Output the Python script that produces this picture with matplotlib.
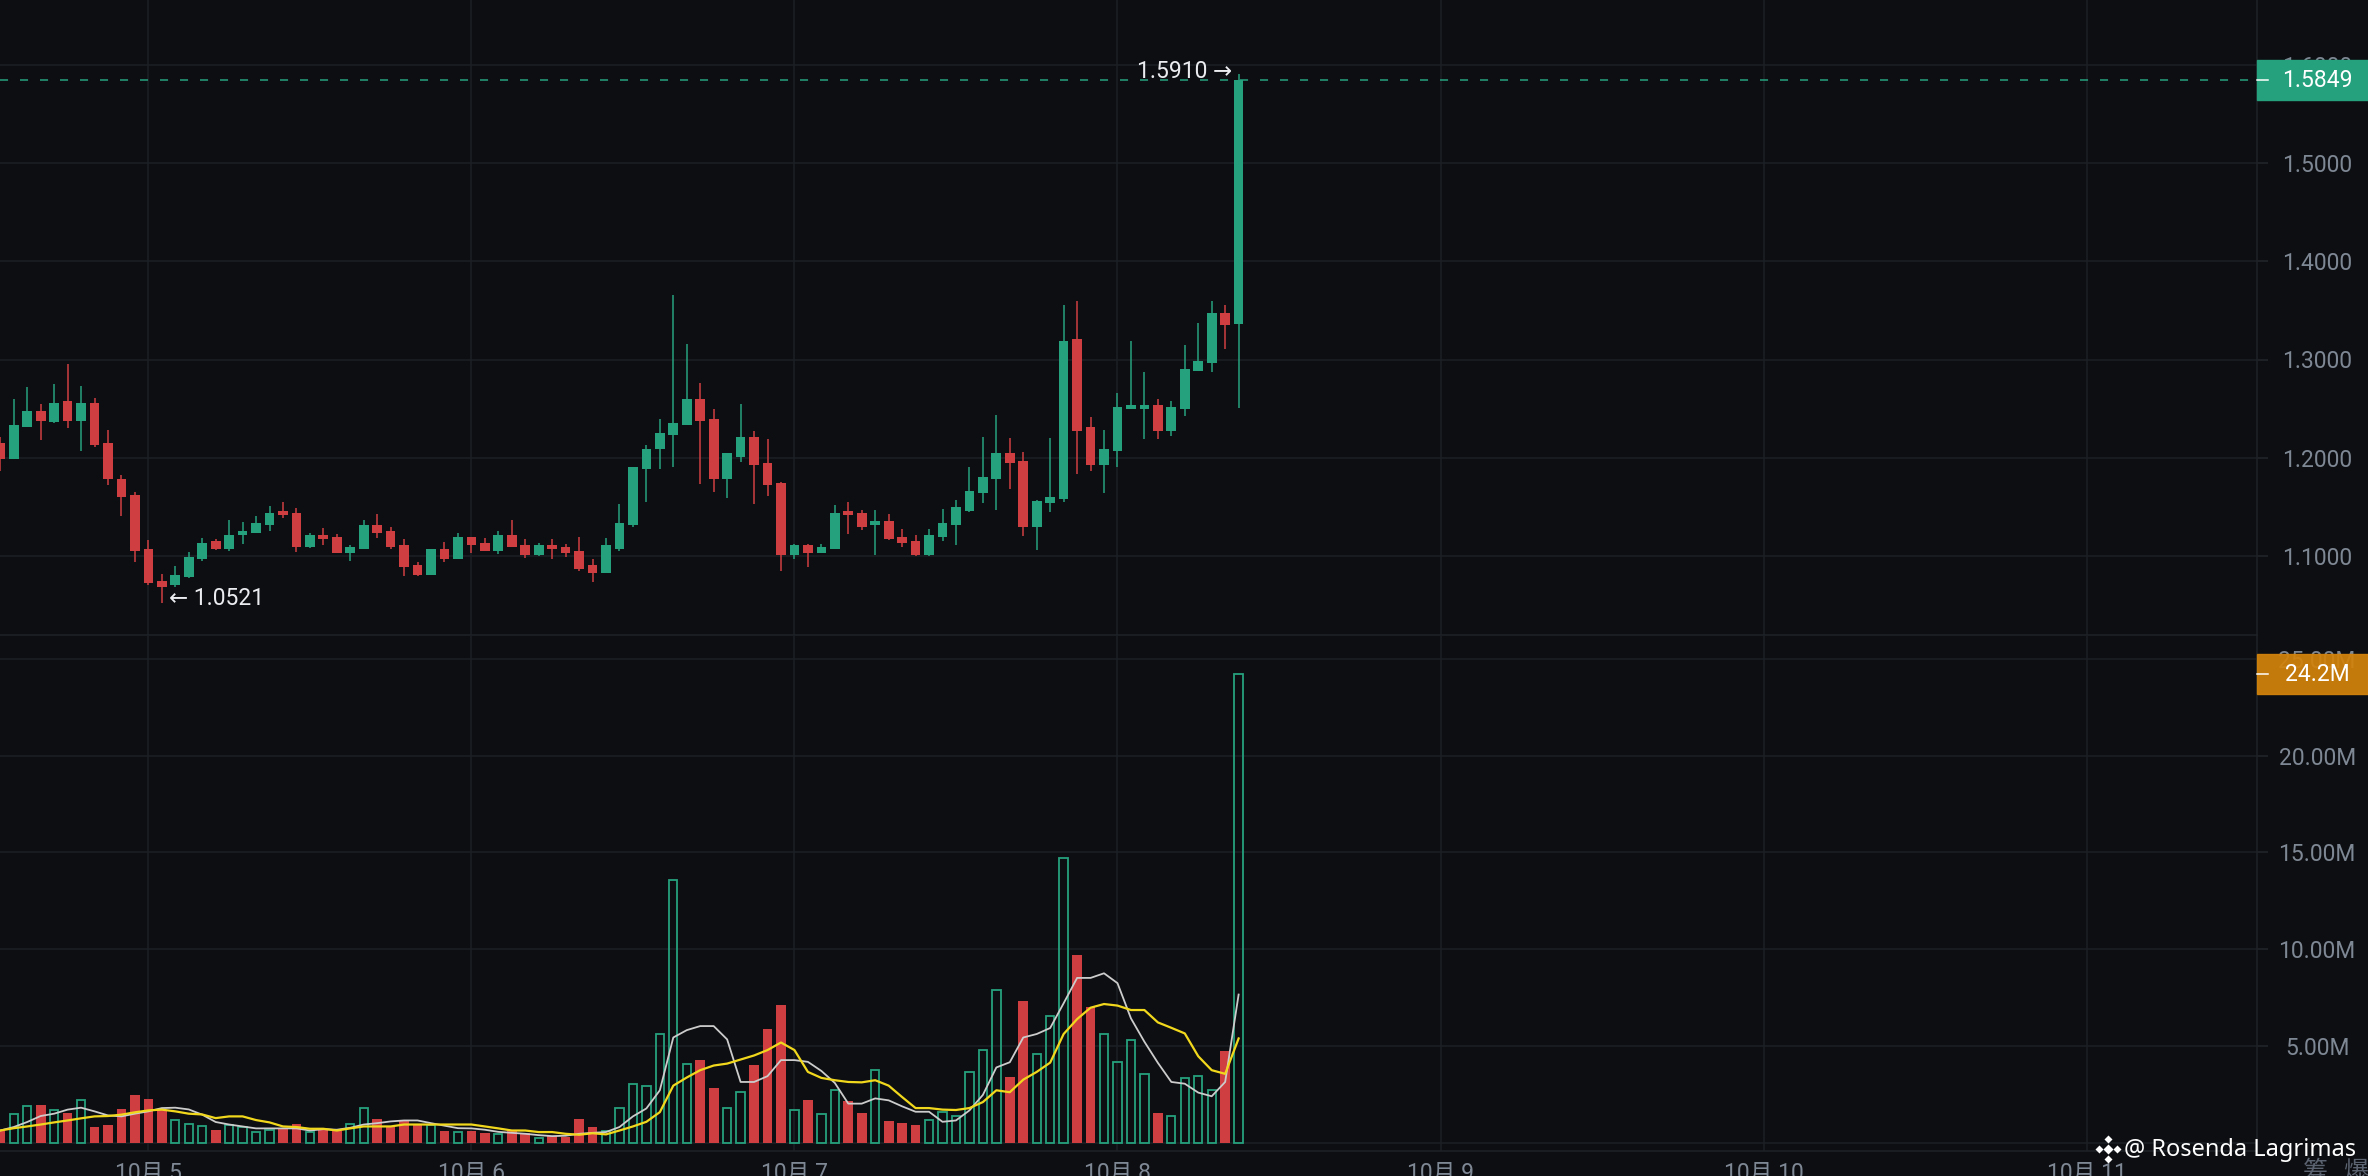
import matplotlib
matplotlib.use('Agg')
import matplotlib.pyplot as plt
from matplotlib.transforms import blended_transform_factory
from matplotlib.patches import Rectangle
from matplotlib.lines import Line2D

# hourly candles, first one is 10-04 13:00
first_hour = 13
days = [5, 6, 7, 8, 9, 10, 11]

opens = [1.2149, 1.1990, 1.2316, 1.2476, 1.2364, 1.2578, 1.2374, 1.2558, 1.2149, 1.1785,
         1.1619, 1.1068, 1.0741, 1.0701, 1.0779, 1.0966, 1.1150, 1.1068, 1.1210, 1.1231,
         1.1313, 1.1456, 1.1435, 1.1088, 1.1210, 1.1190, 1.1027, 1.1068, 1.1313, 1.1251,
         1.1109, 1.0904, 1.0802, 1.1068, 1.0966, 1.1190, 1.1129, 1.1047, 1.1210, 1.1109,
         1.1007, 1.1109, 1.1088, 1.1047, 1.0904, 1.0826, 1.1068, 1.1313, 1.1884, 1.2088,
         1.2231, 1.2333, 1.2599, 1.2395, 1.1782, 1.2007, 1.2211, 1.1946, 1.1741, 1.1007,
         1.1109, 1.1027, 1.1068, 1.1456, 1.1435, 1.1313, 1.1354, 1.1190, 1.1150, 1.1007,
         1.1190, 1.1313, 1.1456, 1.1639, 1.1782, 1.2048, 1.1966, 1.1293, 1.1537, 1.1578,
         1.3211, 1.2313, 1.1925, 1.2068, 1.2497, 1.2497, 1.2537, 1.2272, 1.2497, 1.2884,
         1.2966, 1.3476, 1.3363]
highs = [1.2210, 1.2602, 1.2720, 1.2547, 1.2751, 1.2956, 1.2728, 1.2609, 1.2279, 1.1826,
         1.1650, 1.1160, 1.0809, 1.0894, 1.1034, 1.1180, 1.1167, 1.1364, 1.1344, 1.1404,
         1.1507, 1.1547, 1.1486, 1.1234, 1.1279, 1.1220, 1.1105, 1.1364, 1.1425, 1.1292,
         1.1170, 1.0935, 1.1068, 1.1136, 1.1231, 1.1190, 1.1180, 1.1251, 1.1364, 1.1170,
         1.1129, 1.1170, 1.1119, 1.1190, 1.0966, 1.1180, 1.1527, 1.1905, 1.2129, 1.2394,
         1.3660, 1.3158, 1.2762, 1.2497, 1.2048, 1.2544, 1.2272, 1.2190, 1.1748, 1.1116,
         1.1116, 1.1116, 1.1517, 1.1544, 1.1463, 1.1463, 1.1422, 1.1272, 1.1211, 1.1272,
         1.1476, 1.1565, 1.1905, 1.2211, 1.2435, 1.2197, 1.2054, 1.1571, 1.2197, 1.3551,
         1.3599, 1.2415, 1.2279, 1.2660, 1.3190, 1.2871, 1.2599, 1.2578, 1.3143, 1.3374,
         1.3592, 1.3551, 1.5910]
lows = [1.1860, 1.1990, 1.2316, 1.2183, 1.2357, 1.2306, 1.2068, 1.2112, 1.1724, 1.1408,
        1.0939, 1.0704, 1.0521, 1.0680, 1.0772, 1.0949, 1.1058, 1.1044, 1.1119, 1.1231,
        1.1251, 1.1388, 1.1040, 1.1081, 1.1109, 1.1027, 1.0942, 1.1068, 1.1183, 1.1068,
        1.0796, 1.0796, 1.0802, 1.0939, 1.0966, 1.1027, 1.1047, 1.1017, 1.1088, 1.0976,
        1.1000, 1.0969, 1.0986, 1.0843, 1.0734, 1.0826, 1.1047, 1.1292, 1.1548, 1.1884,
        1.1900, 1.2333, 1.1735, 1.1653, 1.1592, 1.1959, 1.1524, 1.1605, 1.0844, 1.0966,
        1.0884, 1.1027, 1.1068, 1.1218, 1.1259, 1.1007, 1.1156, 1.1088, 1.0993, 1.0993,
        1.1150, 1.1109, 1.1442, 1.1537, 1.1469, 1.1680, 1.1204, 1.1061, 1.1449, 1.1544,
        1.1837, 1.1864, 1.1639, 1.1905, 1.2497, 1.2190, 1.2190, 1.2224, 1.2429, 1.2884,
        1.2871, 1.3109, 1.2510]
closes = [1.1990, 1.2333, 1.2476, 1.2374, 1.2558, 1.2374, 1.2558, 1.2126, 1.1785, 1.1602,
          1.1047, 1.0724, 1.0684, 1.0799, 1.0986, 1.1129, 1.1068, 1.1210, 1.1251, 1.1333,
          1.1435, 1.1415, 1.1088, 1.1210, 1.1170, 1.1027, 1.1088, 1.1313, 1.1231, 1.1088,
          1.0884, 1.0802, 1.1068, 1.0966, 1.1190, 1.1109, 1.1047, 1.1210, 1.1088, 1.1007,
          1.1109, 1.1068, 1.1027, 1.0864, 1.0826, 1.1109, 1.1333, 1.1905, 1.2088, 1.2251,
          1.2353, 1.2598, 1.2374, 1.1782, 1.2048, 1.2211, 1.1925, 1.1721, 1.1007, 1.1109,
          1.1027, 1.1088, 1.1435, 1.1415, 1.1293, 1.1354, 1.1170, 1.1129, 1.1007, 1.1211,
          1.1333, 1.1497, 1.1660, 1.1803, 1.2048, 1.1946, 1.1293, 1.1558, 1.1599, 1.3190,
          1.2272, 1.1925, 1.2088, 1.2517, 1.2537, 1.2537, 1.2272, 1.2517, 1.2905, 1.2986,
          1.3476, 1.3354, 1.5849]

# volume in millions
vols = [0.62, 1.49, 1.89, 1.92, 1.70, 1.51, 2.21, 0.78, 0.88, 1.71,
        2.44, 2.23, 1.66, 1.18, 0.97, 0.85, 0.67, 0.93, 0.80, 0.55,
        0.66, 0.69, 0.97, 0.55, 0.69, 0.59, 0.97, 1.80, 1.19, 0.83,
        1.09, 0.92, 0.92, 0.59, 0.55, 0.59, 0.48, 0.42, 0.62, 0.48,
        0.24, 0.36, 0.31, 1.19, 0.78, 0.57, 1.78, 3.03, 2.92, 5.62,
        13.57, 4.07, 4.29, 2.84, 1.78, 2.61, 4.00, 5.87, 7.09, 1.68,
        2.21, 1.47, 2.72, 2.13, 1.51, 3.75, 1.09, 0.99, 0.88, 1.16,
        1.57, 1.37, 3.65, 4.79, 7.91, 3.37, 7.32, 4.58, 6.56, 14.70,
        9.71, 7.01, 5.62, 4.17, 5.31, 3.55, 1.51, 1.37, 3.34, 3.44,
        2.72, 4.72, 24.20]
ma5 = [0.62, 0.80, 1.06, 1.37, 1.49, 1.70, 1.80, 1.61, 1.40, 1.35,
       1.49, 1.61, 1.78, 1.80, 1.71, 1.44, 1.06, 0.93, 0.83, 0.73,
       0.73, 0.73, 0.73, 0.62, 0.69, 0.66, 0.76, 0.93, 1.00, 1.09,
       1.14, 1.14, 1.00, 0.87, 0.74, 0.73, 0.66, 0.55, 0.50, 0.45,
       0.38, 0.33, 0.35, 0.45, 0.50, 0.54, 0.80, 1.35, 1.76, 2.70,
       5.43, 5.81, 6.02, 6.02, 5.33, 3.13, 3.13, 3.43, 4.26, 4.26,
       4.17, 3.70, 3.08, 2.01, 2.01, 2.28, 2.18, 1.87, 1.59, 1.59,
       1.07, 1.14, 1.66, 2.46, 3.88, 4.15, 5.43, 5.61, 5.92, 7.20,
       8.51, 8.51, 8.75, 8.24, 6.42, 5.21, 4.12, 3.13, 3.04, 2.58,
       2.39, 3.13, 7.65]
ma10 = [0.62, 0.74, 0.83, 0.93, 1.04, 1.14, 1.25, 1.35, 1.37, 1.44,
        1.56, 1.66, 1.70, 1.61, 1.49, 1.45, 1.26, 1.35, 1.35, 1.16,
        1.04, 0.83, 0.80, 0.71, 0.71, 0.62, 0.73, 0.83, 0.83, 0.83,
        0.93, 0.93, 0.93, 0.93, 0.93, 0.93, 0.83, 0.73, 0.62, 0.62,
        0.54, 0.54, 0.45, 0.40, 0.48, 0.42, 0.62, 0.83, 1.07, 1.57,
        2.94, 3.36, 3.74, 3.98, 4.08, 4.29, 4.50, 4.78, 5.17, 4.78,
        3.65, 3.34, 3.22, 3.13, 3.11, 3.22, 2.94, 2.35, 1.78, 1.78,
        1.70, 1.68, 1.78, 2.09, 2.70, 2.60, 3.25, 3.65, 4.13, 5.61,
        6.38, 6.97, 7.16, 7.08, 6.85, 6.85, 6.21, 5.93, 5.64, 4.46,
        3.74, 3.55, 5.38]

price_ticks = [1.1, 1.2, 1.3, 1.4, 1.5, 1.6]
vol_ticks = [5, 10, 15, 20, 25]

bg = '#0c0e11'
grid_c = '#1c1f24'
up_c = '#26a17e'
dn_c = '#cf3e40'
txt_c = '#7e8794'

plt.rcParams['font.family'] = ['Roboto', 'Noto Sans CJK SC', 'DejaVu Sans']
plt.rcParams['lines.scale_dashes'] = False

W, H = 2368, 1176
fig = plt.figure(figsize=(W / 100, H / 100), dpi=100, facecolor=bg)
axis_px = 2257
ax_p = fig.add_axes([0, 1 - 635 / H, axis_px / W, 635 / H], facecolor=bg)
ax_v = fig.add_axes([0, 1 - 1151 / H, axis_px / W, (1151 - 636) / H], facecolor=bg)

n = len(opens)
x = list(range(n))
colors = [up_c if c >= o else dn_c for o, c in zip(opens, closes)]

# candles
ax_p.vlines(x, lows, highs, colors=colors, lw=1.1, zorder=3)
ax_p.bar(x, [abs(c - o) for o, c in zip(opens, closes)],
         bottom=[min(o, c) for o, c in zip(opens, closes)],
         width=0.72, color=colors, linewidth=0, zorder=4)

# volume: up bars hollow, down bars filled
xu = [i for i in x if colors[i] == up_c]
xd = [i for i in x if colors[i] == dn_c]
ax_v.bar(xu, [vols[i] for i in xu], width=0.62, facecolor='none',
         edgecolor=up_c, linewidth=1.3, zorder=3)
ax_v.bar(xd, [vols[i] for i in xd], width=0.72, color=dn_c, linewidth=0, zorder=3)
ax_v.plot(x, ma5, color='#cccccc', lw=1.3, zorder=4)
ax_v.plot(x, ma10, color='#f2d81d', lw=1.6, zorder=5)

px_per_candle = 13.46
x0 = -0.3 / px_per_candle
xlim = (x0, x0 + axis_px / px_per_candle)
day_pos = [24 - first_hour + 24 * j for j in range(len(days))]

px_per_price = 981
ax_p.set_xlim(*xlim)
ax_p.set_ylim(1.5 - (635 - 163.3) / px_per_price, 1.5 + 163.3 / px_per_price)
px_per_m = 19.34
ax_v.set_xlim(*xlim)
ax_v.set_ylim(-(1151 - 1142.5) / px_per_m, (1142.5 - 636) / px_per_m)

for ax in (ax_p, ax_v):
    for s in ('top', 'left'):
        ax.spines[s].set_visible(False)
    for s in ('right', 'bottom'):
        ax.spines[s].set_color('#1f2328')
        ax.spines[s].set_linewidth(1.1)
    ax.set_xticks(day_pos)
    ax.grid(True, color=grid_c, lw=1.1, zorder=0)
    ax.yaxis.tick_right()
    ax.tick_params(axis='y', length=8, width=1.1, color='#23272d',
                   labelcolor=txt_c, labelsize=16.5, pad=35.3)
    ax.tick_params(axis='x', length=0, labelcolor=txt_c, labelsize=16.5, pad=7.5)

ax_p.set_xticklabels([])
ax_p.set_yticks(price_ticks)
ax_p.set_yticklabels([f'{p:.4f}' for p in price_ticks], ha='center')
ax_v.set_xticklabels([f'10月 {d}' for d in days])
ax_v.set_yticks(vol_ticks)
ax_v.set_yticklabels([f'{v:.2f}M' for v in vol_ticks], ha='center')
ax_v.axhline(0, color=grid_c, lw=1.1, zorder=0)

# last price line + labels on the right axis
last = closes[-1]
ax_p.axhline(last, color=up_c, lw=1.1, dashes=(5.8, 8.6), zorder=2)

box_w = (W - axis_px) / axis_px
lab_x = 1 + 60 / axis_px
tick_w = 11 / axis_px
tp = blended_transform_factory(ax_p.transAxes, ax_p.transData)
bh = 40 / px_per_price
ax_p.add_patch(Rectangle((1.0, last - bh / 2), box_w, bh, transform=tp,
                         color=up_c, clip_on=False, zorder=10))
ax_p.add_line(Line2D([1.0, 1.0 + tick_w], [last, last], transform=tp,
                     color='white', lw=1.1, clip_on=False, zorder=11))
ax_p.text(lab_x, last, f'{last:.4f}', transform=tp, ha='center', va='center',
          color='white', fontsize=16.5, clip_on=False, zorder=11)

tv = blended_transform_factory(ax_v.transAxes, ax_v.transData)
vh = 40 / px_per_m
vl = vols[-1]
ax_v.add_patch(Rectangle((1.0, vl - vh / 2), box_w, vh, transform=tv,
                         color='#d3830b', alpha=0.93, clip_on=False, zorder=10))
ax_v.add_line(Line2D([1.0, 1.0 + tick_w], [vl, vl], transform=tv,
                     color='white', lw=1.1, clip_on=False, zorder=11))
ax_v.text(lab_x, vl, f'{vl:.1f}M', transform=tv, ha='center', va='center',
          color='white', fontsize=16.5, clip_on=False, zorder=11)

# high / low markers
i_hi = highs.index(max(highs))
i_lo = lows.index(min(lows))
ax_p.annotate(f'{highs[i_hi]:.4f} →', xy=(i_hi - 0.45, highs[i_hi]),
              xytext=(0, 2), textcoords='offset points', ha='right', va='center',
              color='#eaecef', fontsize=16.5, family=['Roboto', 'DejaVu Sans'], zorder=6)
ax_p.annotate(f'← {lows[i_lo]:.4f}', xy=(i_lo + 0.5, lows[i_lo]),
              xytext=(0, 3), textcoords='offset points', ha='left', va='center',
              color='#eaecef', fontsize=16.5, family=['Roboto', 'DejaVu Sans'], zorder=6)

# watermark
cx, cy = 2108, 1149
for dx, dy, ms in [(0, 0, 5.5), (0, -10, 4), (0, 10, 4), (-9, 0, 4), (9, 0, 4)]:
    fig.add_artist(Line2D([(cx + dx) / W], [1 - (cy + dy) / H], marker='D',
                          ms=ms, color='white', mec='none', transform=fig.transFigure))
fig.text(2124 / W, 1 - 1156.5 / H, '@ Rosenda Lagrimas', color='white',
         fontsize=17, family=['Noto Sans', 'DejaVu Sans'], ha='left', va='baseline')
fig.text(2303 / W, 1 - 1159 / H, '筹', color='#5b6370', fontsize=18,
         family=['Noto Sans CJK SC'], ha='left', va='top')
fig.text(2343 / W, 1 - 1159 / H, '爆', color='#5b6370', fontsize=18,
         family=['Noto Sans CJK SC'], ha='left', va='top')

fig.savefig('out.png', dpi=100, facecolor=bg)
